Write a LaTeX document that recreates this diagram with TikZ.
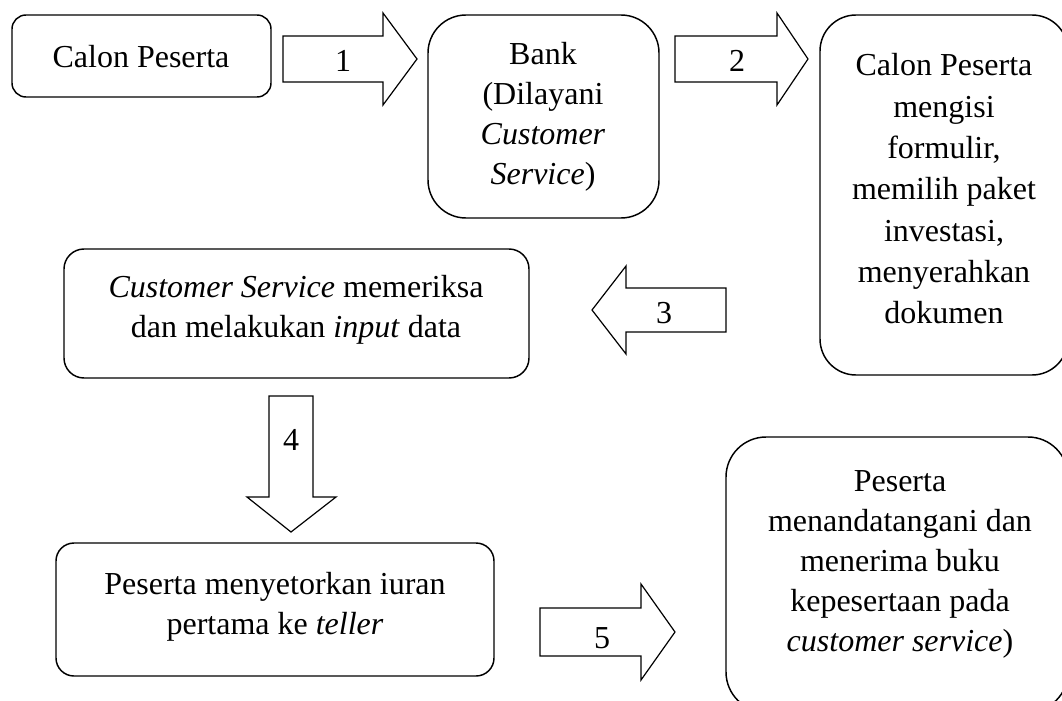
\documentclass[tikz,border=0pt]{standalone}
\usepackage{fontspec}
\setmainfont{Liberation Serif}
\usepackage{tikz}

\begin{document}
\begin{tikzpicture}[x=0.75pt,y=-0.75pt,
  procbox/.style={draw=black,line width=1.1pt},
  blockarrow/.style={draw=black,line width=0.9pt,line join=miter},
  proctext/.style={align=center,inner sep=0pt,font=\fontsize{24}{30}\selectfont}]
\useasboundingbox (0,0) rectangle (1062,700);
\clip (0,0) rectangle (1062,700);
\draw [procbox,rounded corners=10.5pt] (12,15) rectangle (271,97);
\node [proctext] (calon) at (141,57) {Calon Peserta};
\draw [procbox,rounded corners=28.5pt] (428,15) rectangle (659,218);
\node [proctext] (bank) at (543,117) {Bank\\(Dilayani\\\textit{Customer}\\\textit{Service})};
\draw [procbox,rounded corners=27pt] (820,15) rectangle (1068,375);
\node [proctext,font=\fontsize{24}{31}\selectfont] (isi) at (944,189) {Calon Peserta\\mengisi\\formulir,\\memilih paket\\investasi,\\menyerahkan\\dokumen};
\draw [procbox,rounded corners=15pt] (64,249) rectangle (529,378);
\node [proctext] (periksa) at (296,310) {\textit{Customer Service} memeriksa\\dan melakukan \textit{input} data};
\draw [procbox,rounded corners=13.5pt] (56,543) rectangle (494,676);
\node [proctext] (setor) at (275,607) {Peserta menyetorkan iuran\\pertama ke \textit{teller}};
\draw [procbox,rounded corners=30pt] (726,437) rectangle (1068,712);
\node [proctext] (terima) at (900,564) {Peserta\\menandatangani dan\\menerima buku\\kepesertaan pada\\\textit{customer service})};
\draw [blockarrow] (283,36) -- (383,36) -- (383,13) -- (417,59) -- (383,105) -- (383,82) -- (283,82) -- cycle;
\node [proctext] (n1) at (343,61) {1};
\draw [blockarrow] (675,36) -- (777,36) -- (777,13) -- (808,59) -- (777,105) -- (777,82) -- (675,82) -- cycle;
\node [proctext] (n2) at (737,61) {2};
\draw [blockarrow] (726,288) -- (626,288) -- (626,266) -- (592,310) -- (626,354) -- (626,332) -- (726,332) -- cycle;
\node [proctext] (n3) at (664,313) {3};
\draw [blockarrow] (269,396) -- (269,497) -- (247,497) -- (291,532) -- (336,497) -- (313,497) -- (313,396) -- cycle;
\node [proctext] (n4) at (291,440) {4};
\draw [blockarrow] (540,608) -- (641,608) -- (641,584) -- (675,632) -- (641,680) -- (641,656) -- (540,656) -- cycle;
\node [proctext] (n5) at (602,638) {5};
\end{tikzpicture}
\end{document}
